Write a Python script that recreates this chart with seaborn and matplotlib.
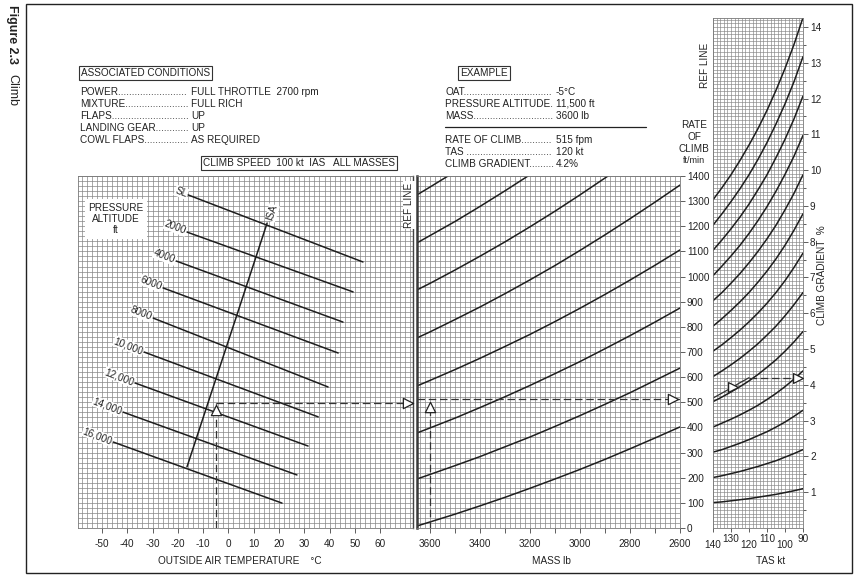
import numpy as np
import pandas as pd
import matplotlib
matplotlib.use('Agg')
import matplotlib.pyplot as plt
import seaborn as sns
from matplotlib.lines import Line2D
from matplotlib.patches import Rectangle

# ---------------- data ----------------
# left panel: pressure altitude lines (OAT degC vs rate of climb fpm)
alt_labels = ['SL', '2000', '4000', '6000', '8000', '10,000', '12,000', '14,000', '16,000']
oat_start = [-16.0, -16.4, -20.7, -25.9, -29.8, -33.4, -37.0, -41.7, -45.6]
roc_start = [1325, 1177, 1062, 955, 835, 700, 577, 461, 342]
oat_end = [53.2, 49.3, 45.3, 43.4, 39.4, 35.5, 31.5, 27.1, 21.2]
roc_end = [1058, 939, 819, 696, 561, 442, 326, 211, 99]
isa_oat = [-16.4, 15.3]
isa_roc = [243, 1213]
oat_ticks = [-50, -40, -30, -20, -10, 0, 10, 20, 30, 40, 50, 60]

# middle panel: mass correction guide lines (mass lb vs rate of climb fpm)
mass_pts = [3652, 3600, 3500, 3400, 3300, 3200, 3100, 3000, 2900, 2800, 2700, 2600]
roc_A = [8, 24, 55, 88, 122, 158, 195, 233, 273, 315, 358, 402]
roc_B = [195, 213, 248, 284, 323, 362, 404, 447, 492, 538, 587, 636]
roc_C = [378, 398, 437, 479, 522, 567, 614, 662, 713, 765, 819, 875]
roc_D = [565, 587, 630, 675, 722, 770, 821, 874, 929, 986, 1045, 1106]
roc_E = [756, 780, 829, 879, 932, 987, 1044, 1104, 1166, 1230, 1296, 1364]
mass_F = [3652, 3600, 3500, 3400, 3300, 3200, 3100, 3000, 2900, 2888]
roc_F = [947, 973, 1026, 1081, 1138, 1198, 1260, 1325, 1392, 1400]
mass_G = [3652, 3600, 3500, 3400, 3300, 3208]
roc_G = [1134, 1163, 1219, 1279, 1341, 1400]
mass_H = [3652, 3600, 3528]
roc_H = [1325, 1356, 1400]
mass_ticks = [3600, 3500, 3400, 3300, 3200, 3100, 3000, 2900, 2800, 2700, 2600]
roc_ticks = [0, 100, 200, 300, 400, 500, 600, 700, 800, 900, 1000, 1100, 1200, 1300, 1400]

# right panel: climb gradient % vs TAS kt, one curve per rate of climb (fpm)
tas_pts = [140, 135, 130, 125, 120, 115, 110, 105, 100, 95, 90]
grad_100 = [0.71, 0.73, 0.76, 0.79, 0.82, 0.86, 0.90, 0.94, 0.99, 1.04, 1.10]
grad_200 = [1.41, 1.46, 1.52, 1.58, 1.65, 1.72, 1.80, 1.88, 1.98, 2.08, 2.19]
grad_300 = [2.12, 2.19, 2.28, 2.37, 2.47, 2.58, 2.69, 2.82, 2.96, 3.12, 3.29]
grad_400 = [2.82, 2.93, 3.04, 3.16, 3.29, 3.43, 3.59, 3.76, 3.95, 4.16, 4.39]
grad_500 = [3.53, 3.66, 3.80, 3.95, 4.11, 4.29, 4.49, 4.70, 4.94, 5.20, 5.49]
grad_600 = [4.23, 4.39, 4.56, 4.74, 4.94, 5.15, 5.39, 5.64, 5.93, 6.24, 6.58]
grad_700 = [4.94, 5.12, 5.32, 5.53, 5.76, 6.01, 6.28, 6.58, 6.91, 7.28, 7.68]
grad_800 = [5.64, 5.85, 6.08, 6.32, 6.58, 6.87, 7.18, 7.52, 7.90, 8.32, 8.78]
grad_900 = [6.35, 6.58, 6.84, 7.11, 7.41, 7.73, 8.08, 8.46, 8.89, 9.35, 9.87]
grad_1000 = [7.05, 7.32, 7.60, 7.90, 8.23, 8.59, 8.98, 9.41, 9.88, 10.39, 10.97]
grad_1100 = [7.76, 8.05, 8.36, 8.69, 9.05, 9.45, 9.87, 10.35, 10.86, 11.43, 12.07]
grad_1200 = [8.46, 8.78, 9.12, 9.48, 9.87, 10.30, 10.77, 11.29, 11.85, 12.47, 13.17]
grad_1300 = [9.17, 9.51, 9.87, 10.27, 10.70, 11.16, 11.67, 12.23, 12.84, 13.51, 14.26]
gradient_ticks = [1, 2, 3, 4, 5, 6, 7, 8, 9, 10, 11, 12, 13, 14]

# worked example
ex_oat = -5
ex_roc_left = 497
ex_mass = 3600
ex_roc = 515
ex_path_tas = [140, 135, 130, 125, 120]
ex_path_grad = [3.63, 3.77, 3.91, 4.06, 4.20]
ex_grad = 4.2

# ---------------- figure ----------------
sns.set_style('white')
plt.rcParams['font.family'] = ['Liberation Sans', 'DejaVu Sans']
TXT = '#222222'
LINE = '#1e1e1e'
GRID = '#858585'
FS = 7.2

W, H = 855, 578
fig = plt.figure(figsize=(W / 100, H / 100), dpi=100)


def rect(x0, y0, x1, y1):
    return [x0 / W, 1 - y1 / H, (x1 - x0) / W, (y1 - y0) / H]


def fp(x, y):
    return (x / W, 1 - y / H)


ax1 = fig.add_axes(rect(78, 176, 413, 528))
ax2 = fig.add_axes(rect(417, 176, 680, 528))
ax3 = fig.add_axes(rect(713, 18, 803, 528))


def draw_grid(ax, xs, ys, lw=0.5):
    ax.vlines(xs, 0, 1, transform=ax.get_xaxis_transform(), colors=GRID, lw=lw, zorder=0)
    ax.hlines(ys, 0, 1, transform=ax.get_yaxis_transform(), colors=GRID, lw=lw, zorder=0)


draw_grid(ax1, np.arange(-58, 73, 2), np.arange(0, 1401, 20))
draw_grid(ax2, np.arange(2600, 3652, 20), np.arange(0, 1401, 20))
draw_grid(ax3, np.arange(90, 141, 2), np.arange(0, 14.26, 0.1), lw=0.45)

# ---- left panel lines
df_alt = pd.DataFrame({'oat': oat_start + oat_end,
                       'roc': roc_start + roc_end,
                       'alt': alt_labels * 2})
sns.lineplot(data=df_alt, x='oat', y='roc', units='alt', estimator=None, sort=False,
             color=LINE, lw=1.1, ax=ax1, legend=False)
sns.lineplot(x=isa_oat, y=isa_roc, estimator=None, sort=False, color=LINE, lw=1.1, ax=ax1)
for lab, xo, yo in zip(alt_labels, oat_start, roc_start):
    ax1.text(xo - 0.4, yo + 2, lab, rotation=-21, rotation_mode='anchor', ha='right', va='center',
             fontsize=FS, color=TXT, zorder=5,
             bbox=dict(boxstyle='square,pad=0.05', fc='white', ec='none'))
ax1.text(isa_oat[1] + 1.0, isa_roc[1] + 10, 'ISA', rotation=72, rotation_mode='anchor',
         ha='left', va='center', fontsize=FS, color=TXT, zorder=5,
         bbox=dict(boxstyle='square,pad=0.05', fc='white', ec='none'))

# example in left panel
sns.lineplot(x=[ex_oat, ex_oat], y=[0, ex_roc_left], estimator=None, sort=False, color='#333',
             lw=0.9, ls=(0, (6, 3)), ax=ax1)
sns.lineplot(x=[ex_oat, 73], y=[ex_roc_left, ex_roc_left], estimator=None, sort=False, color='#333',
             lw=0.9, ls=(0, (6, 3)), ax=ax1)
sns.scatterplot(x=[ex_oat], y=[ex_roc_left - 27], marker='^', s=55, fc='white', ec='#222',
                linewidth=0.9, ax=ax1, zorder=6)
sns.scatterplot(x=[71], y=[ex_roc_left], marker='>', s=55, fc='white', ec='#222',
                linewidth=0.9, ax=ax1, zorder=6, clip_on=False)

# ---- middle panel lines
mid_frames = []
for name, ms, rs in [('A', mass_pts, roc_A), ('B', mass_pts, roc_B), ('C', mass_pts, roc_C),
                     ('D', mass_pts, roc_D), ('E', mass_pts, roc_E), ('F', mass_F, roc_F),
                     ('G', mass_G, roc_G), ('H', mass_H, roc_H)]:
    mid_frames.append(pd.DataFrame({'mass': ms, 'roc': rs, 'curve': name}))
df_mid = pd.concat(mid_frames, ignore_index=True)
sns.lineplot(data=df_mid, x='mass', y='roc', units='curve', estimator=None, sort=False,
             color=LINE, lw=1.1, ax=ax2, legend=False)
sns.lineplot(x=[ex_mass, ex_mass], y=[0, ex_roc - 40], estimator=None, sort=False, color='#333',
             lw=0.9, ls=(0, (6, 3)), ax=ax2)
sns.lineplot(x=[3652, 2600], y=[ex_roc, ex_roc], estimator=None, sort=False, color='#333',
             lw=0.9, ls=(0, (6, 3)), ax=ax2)
sns.scatterplot(x=[ex_mass], y=[ex_roc - 34], marker='^', s=55, fc='white', ec='#222',
                linewidth=0.9, ax=ax2, zorder=6)
sns.scatterplot(x=[2628], y=[ex_roc], marker='>', s=55, fc='white', ec='#222',
                linewidth=0.9, ax=ax2, zorder=6)

# ---- right panel curves
right_frames = []
for r, g in zip([100, 200, 300, 400, 500, 600, 700, 800, 900, 1000, 1100, 1200, 1300],
                [grad_100, grad_200, grad_300, grad_400, grad_500, grad_600, grad_700,
                 grad_800, grad_900, grad_1000, grad_1100, grad_1200, grad_1300]):
    right_frames.append(pd.DataFrame({'tas': tas_pts, 'grad': g, 'roc': r}))
df_right = pd.concat(right_frames, ignore_index=True)
sns.lineplot(data=df_right, x='tas', y='grad', units='roc', estimator=None, sort=False,
             color=LINE, lw=1.1, ax=ax3, legend=False)
sns.lineplot(x=ex_path_tas, y=ex_path_grad, estimator=None, sort=False, color='#333', lw=0.9, ax=ax3)
sns.lineplot(x=[120, 90], y=[ex_grad, ex_grad], estimator=None, sort=False, color='#333',
             lw=0.9, ls=(0, (6, 3)), ax=ax3)
sns.scatterplot(x=[129], y=[3.93], marker='>', s=50, fc='white', ec='#222',
                linewidth=0.9, ax=ax3, zorder=6)
sns.scatterplot(x=[93], y=[ex_grad], marker='>', s=50, fc='white', ec='#222',
                linewidth=0.9, ax=ax3, zorder=6)

for ax in (ax1, ax2, ax3):
    ax.set_xlabel('')
    ax.set_ylabel('')
    for sp in ax.spines.values():
        sp.set_color('#777')
        sp.set_linewidth(0.6)

ax1.spines['right'].set_color('#444'); ax1.spines['right'].set_linewidth(1.0)
ax2.spines['left'].set_color('#3a3a3a'); ax2.spines['left'].set_linewidth(1.8)

ax1.set_xlim(-59.5, 73.0); ax1.set_ylim(0, 1400)
ax2.set_xlim(3652, 2600); ax2.set_ylim(0, 1400)
ax3.set_xlim(140, 90); ax3.set_ylim(0, 14.25)

# ticks
ax1.set_xticks(oat_ticks)
ax1.set_xticklabels([str(v) for v in oat_ticks])
ax1.set_yticks([])
ax1.tick_params(axis='x', bottom=True, direction='out', length=3.5, width=0.6, color='#444',
                labelsize=FS, labelcolor=TXT, pad=4.5)

ax2.set_xticks(mass_ticks)
ax2.set_xticklabels([str(v) if v % 200 == 0 else '' for v in mass_ticks])
ax2.tick_params(axis='x', bottom=True, direction='out', length=3.5, width=0.6, color='#444',
                labelsize=FS, labelcolor=TXT, pad=4.5)
ax2.set_yticks(roc_ticks)
ax2.set_yticklabels([str(v) for v in roc_ticks])
ax2.yaxis.tick_right()
ax2.tick_params(axis='y', right=True, left=False, labelright=True, labelleft=False,
                direction='out', length=3.5, width=0.6, color='#444', labelsize=FS,
                labelcolor=TXT, pad=1.5)

ax3.set_xticks([140, 120, 100])
ax3.set_xticklabels(['140', '120', '100'])
ax3.set_xticks([130, 110, 90], minor=True)
ax3.set_xticklabels(['130', '110', '90'], minor=True)
ax3.tick_params(axis='x', which='major', bottom=True, direction='out', length=3, width=0.6,
                color='#444', labelsize=FS, labelcolor=TXT, pad=5.5)
ax3.tick_params(axis='x', which='minor', bottom=True, direction='out', length=3, width=0.6,
                color='#444', labelsize=FS, labelcolor=TXT, pad=1.0)
ax3.set_yticks(gradient_ticks)
ax3.set_yticklabels([str(v) for v in gradient_ticks])
ax3.set_yticks(np.arange(0.5, 14.3, 1.0), minor=True)
ax3.yaxis.tick_right()
ax3.tick_params(axis='y', which='major', right=True, left=False, labelright=True, labelleft=False,
                direction='out', length=3.5, width=0.6, color='#444', labelsize=FS,
                labelcolor=TXT, pad=1.5)
ax3.tick_params(axis='y', which='minor', right=True, left=False, direction='out', length=2.5,
                width=0.6, color='#444')

# ---------------- texts ----------------
renderer = fig.canvas.get_renderer()


def dotted(x0, x1, y, key):
    t = fig.text(*fp(x0, y), key, fontsize=FS, color=TXT, va='center')
    s = key
    while True:
        t.set_text(s + '.')
        if t.get_window_extent(renderer).x1 > x1:
            break
        s += '.'
    t.set_text(s)


box = dict(boxstyle='square,pad=0.2', fc='white', ec='#333', lw=0.8)

fig.add_artist(Rectangle((26 / W, 1 - 573 / H), (852 - 26) / W, (573 - 4) / H,
                         transform=fig.transFigure, fill=False, ec='#222', lw=1.0))
fig.text(*fp(12, 5), 'Figure 2.3', rotation=-90, fontsize=9, fontweight='bold',
         ha='center', va='top', color=TXT)
fig.text(*fp(12, 74), 'Climb', rotation=-90, fontsize=9, ha='center', va='top', color=TXT)

fig.text(*fp(81, 73), 'ASSOCIATED CONDITIONS', fontsize=FS, color=TXT, va='center', bbox=box)
conds = [('POWER', 'FULL THROTTLE  2700 rpm', 92), ('MIXTURE', 'FULL RICH', 104),
         ('FLAPS', 'UP', 116), ('LANDING GEAR', 'UP', 128), ('COWL FLAPS', 'AS REQUIRED', 140)]
for k, v, y in conds:
    dotted(80, 189, y, k)
    fig.text(*fp(191, y), v, fontsize=FS, color=TXT, va='center')

fig.text(*fp(299, 163), 'CLIMB SPEED  100 kt  IAS   ALL MASSES', fontsize=FS, color=TXT,
         ha='center', va='center', bbox=box)

fig.text(*fp(460, 73), 'EXAMPLE', fontsize=FS, color=TXT, va='center', bbox=box)
ex_rows = [('OAT', '-5°C', 92), ('PRESSURE ALTITUDE', '11,500 ft', 104), ('MASS', '3600 lb', 116),
           ('RATE OF CLIMB', '515 fpm', 140), ('TAS ', '120 kt', 152),
           ('CLIMB GRADIENT', '4.2%', 164)]
for k, v, y in ex_rows:
    dotted(445, 554, y, k)
    fig.text(*fp(556, y), v, fontsize=FS, color=TXT, va='center')
fig.add_artist(Line2D([445 / W, 646 / W], [1 - 127 / H, 1 - 127 / H], color='#222', lw=0.9))

for s, y, f in [('RATE', 125, FS), ('OF', 137, FS), ('CLIMB', 149, FS), ('ft/min', 161, 6.5)]:
    fig.text(*fp(694, y), s, fontsize=f, color=TXT, ha='center', va='center')

fig.text(*fp(705, 65), 'REF LINE', rotation=90, fontsize=FS, color=TXT, ha='center', va='center')
fig.text(*fp(409, 205), 'REF LINE', rotation=90, fontsize=FS, color=TXT, ha='center', va='center',
         bbox=dict(boxstyle='square,pad=0.1', fc='white', ec='none'), zorder=5)
fig.text(*fp(116, 219), 'PRESSURE\nALTITUDE\nft', fontsize=FS, color=TXT, ha='center',
         va='center', linespacing=1.15, multialignment='center',
         bbox=dict(boxstyle='square,pad=0.35', fc='white', ec='none'), zorder=5)
fig.text(*fp(822, 275), 'CLIMB GRADIENT  %', rotation=90, fontsize=FS, color=TXT,
         ha='center', va='center')

fig.text(*fp(240, 561), 'OUTSIDE AIR TEMPERATURE    °C', fontsize=FS, color=TXT,
         ha='center', va='center')
fig.text(*fp(551, 561), 'MASS lb', fontsize=FS, color=TXT, ha='center', va='center')
fig.text(*fp(771, 561), 'TAS kt', fontsize=FS, color=TXT, ha='center', va='center')

fig.savefig('out.png', dpi=100, facecolor='white')
